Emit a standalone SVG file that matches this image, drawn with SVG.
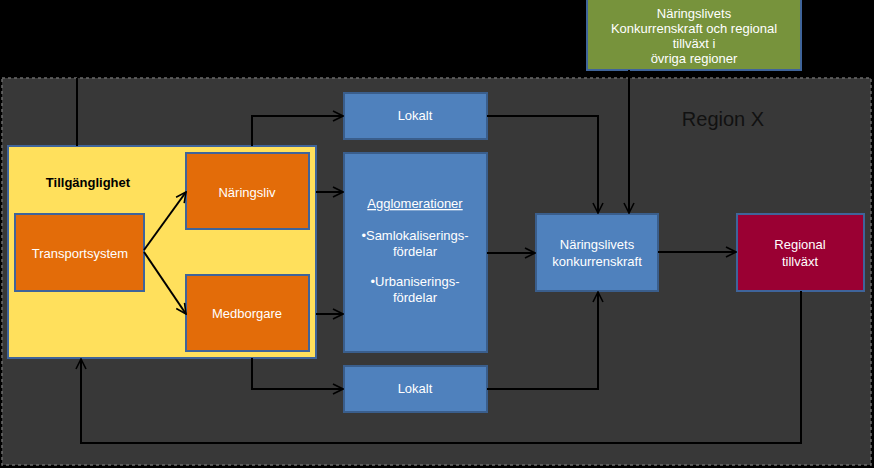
<svg xmlns="http://www.w3.org/2000/svg" width="874" height="468" viewBox="0 0 874 468">
<style>
.bg{fill:#000}
.region{fill:#383838;stroke:#6a6a6a;stroke-width:1.5;stroke-dasharray:3 3}
.yellow{fill:#FFE05C;stroke:#3F649A;stroke-width:2}
.orange{fill:#E36C09;stroke:#3F649A;stroke-width:2}
.blue{fill:#4F81BD;stroke:#3A5E8C;stroke-width:2}
.red{fill:#9A0033;stroke:#3F649A;stroke-width:2}
.green{fill:#77933C;stroke:#3F649A;stroke-width:2}
text{font-family:"Liberation Sans",Arial,sans-serif;font-size:13px;fill:#fff;text-anchor:middle}
.dark{fill:#000;font-weight:bold}
.region-label{fill:#111;font-size:20px}
.conn path{fill:none;stroke:#000;stroke-width:2}
</style>
<defs>
<marker id="arr" viewBox="0 0 12 12" refX="11" refY="6" markerWidth="12" markerHeight="12" markerUnits="userSpaceOnUse" orient="auto">
<path d="M1,1 L11,6 L1,11" fill="none" stroke="#000" stroke-width="1.6"/>
</marker>
</defs>
<rect class="bg" x="0" y="0" width="874" height="468"/>
<rect class="region" x="2" y="78" width="869" height="387"/>
<text class="region-label" x="723" y="126">Region X</text>

<g id="tillganglighet">
<rect class="yellow" x="8" y="146" width="308" height="212"/>
<text class="dark" x="88" y="187">Tillgänglighet</text>
</g>
<g id="transportsystem">
<rect class="orange" x="15" y="214" width="129" height="77"/>
<text x="80" y="258">Transportsystem</text>
</g>
<g id="naringsliv">
<rect class="orange" x="186" y="153" width="123" height="76"/>
<text x="247" y="197">Näringsliv</text>
</g>
<g id="medborgare">
<rect class="orange" x="186" y="275" width="123" height="76"/>
<text x="247" y="318">Medborgare</text>
</g>
<g id="lokalt-top">
<rect class="blue" x="344" y="93" width="143" height="46"/>
<text x="415" y="120">Lokalt</text>
</g>
<g id="agglomerationer">
<rect class="blue" x="344" y="153" width="143" height="199"/>
<text x="415" y="208" text-decoration="underline">Agglomerationer</text>
<text x="415" y="240">•Samlokaliserings-</text>
<text x="415" y="256">fördelar</text>
<text x="415" y="286">•Urbaniserings-</text>
<text x="415" y="302">fördelar</text>
</g>
<g id="lokalt-bottom">
<rect class="blue" x="344" y="366" width="143" height="46"/>
<text x="415" y="393">Lokalt</text>
</g>
<g id="konkurrenskraft">
<rect class="blue" x="536" y="214" width="122" height="77"/>
<text x="597" y="249">Näringslivets</text>
<text x="597" y="266">konkurrenskraft</text>
</g>
<g id="regional-tillvaxt">
<rect class="red" x="737" y="214" width="127" height="77"/>
<text x="800" y="249">Regional</text>
<text x="800" y="266">tillväxt</text>
</g>
<g id="ovriga-regioner">
<rect class="green" x="587" y="-2" width="214" height="72"/>
<text x="694" y="18">Näringslivets</text>
<text x="694" y="33">Konkurrenskraft och regional</text>
<text x="694" y="48">tillväxt i</text>
<text x="694" y="63">övriga regioner</text>
</g>

<g class="conn">
<path d="M77,78 V146"/>
<path d="M144,250 L186,192" marker-end="url(#arr)"/>
<path d="M144,252 L186,314" marker-end="url(#arr)"/>
<path d="M252,146 V116 H343" marker-end="url(#arr)"/>
<path d="M316,192 H343" marker-end="url(#arr)"/>
<path d="M316,314 H343" marker-end="url(#arr)"/>
<path d="M252,358 V389 H343" marker-end="url(#arr)"/>
<path d="M487,116 H598 V213" marker-end="url(#arr)"/>
<path d="M629,70 V213" marker-end="url(#arr)"/>
<path d="M487,253 H535" marker-end="url(#arr)"/>
<path d="M487,389 H598 V292" marker-end="url(#arr)"/>
<path d="M658,252 H736" marker-end="url(#arr)"/>
<path d="M801,291 V443 H81 V359" marker-end="url(#arr)"/>
</g>
</svg>
